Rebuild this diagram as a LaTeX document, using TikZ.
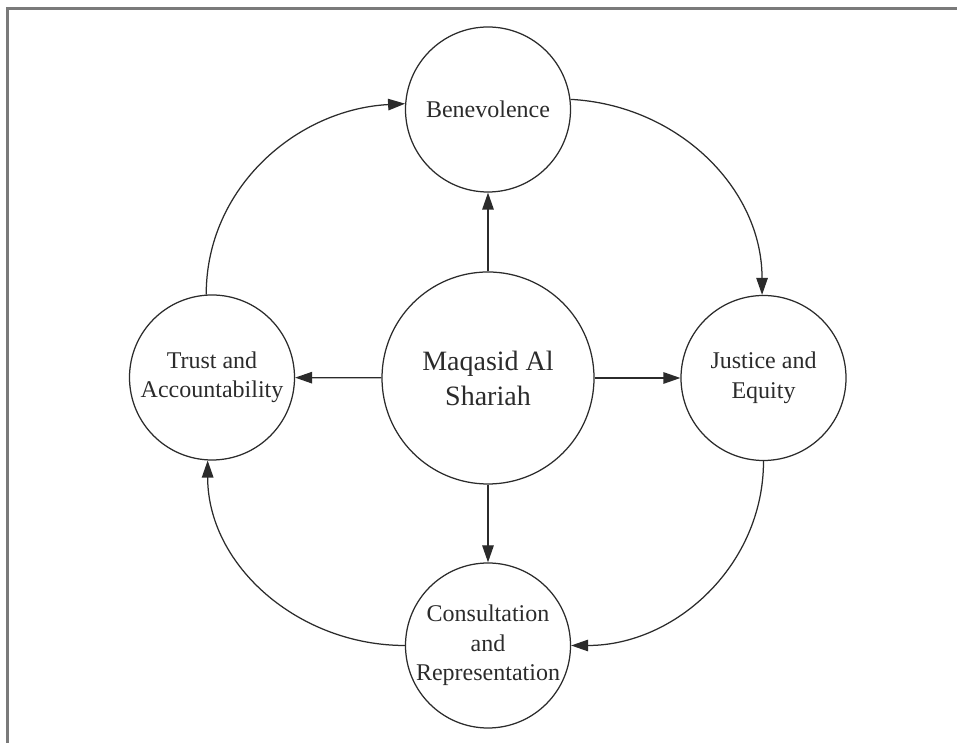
\documentclass[tikz,border=0pt]{standalone}
\usepackage{fontspec}
\setmainfont{Liberation Serif}
\usetikzlibrary{arrows.meta}
\definecolor{ink}{HTML}{2B2B2B}
\definecolor{framegray}{HTML}{7A7A7A}
\tikzset{
  bubble/.style={circle, draw=ink, line width=1.25pt, minimum size=165pt, inner sep=0pt, align=center, text=ink, font=\fontsize{24}{29.5}\selectfont},
  hub/.style={bubble, minimum size=212pt, font=\fontsize{28}{35}\selectfont},
  arr/.style={draw=ink, line width=1.25pt, -{Triangle[length=17pt,width=11.5pt]}},
}
\begin{document}
\begin{tikzpicture}[x=1pt,y=1pt]
\useasboundingbox (0,0) rectangle (957,743);
\draw[framegray, line width=2.5pt] (7.5,0) -- (7.5,734.7) -- (957,734.7);
\node[hub] (m) at (488,365) {Maqasid Al\\Shariah};
\node[bubble] (ben) at (488,633.5) {Benevolence};
\node[bubble] (trust) at (212,365.5) {Trust and\\Accountability};
\node[bubble] (just) at (763.5,365) {Justice and\\Equity};
\node[bubble] (cons) at (488,97.5) {Consultation\\and\\Representation};
\draw[arr] (m) -- (ben);
\draw[arr] (m) -- (trust);
\draw[arr] (m) -- (just);
\draw[arr] (m) -- (cons);
\draw[arr] (ben.7) to[out=-3,in=90] (just.91);
\draw[arr] (just.270) to[out=-90,in=0] (cons.0);
\draw[arr] (cons.180) to[out=180,in=-90] (trust.267);
\draw[arr] (trust.94) to[out=90,in=183] (ben.176);
\end{tikzpicture}
\end{document}
